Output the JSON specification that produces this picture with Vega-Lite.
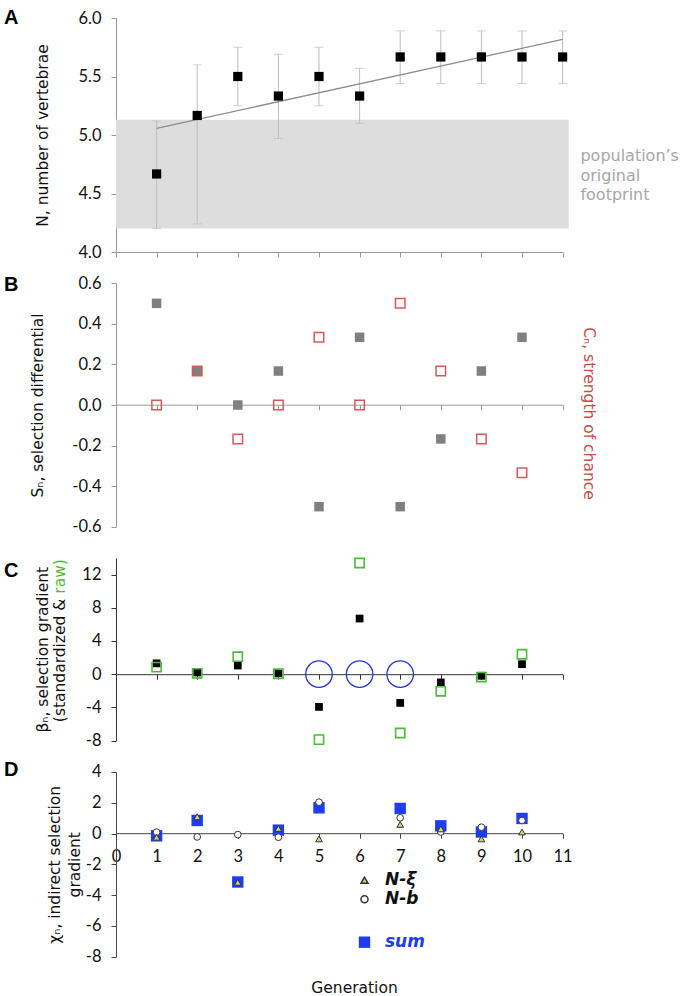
{
  "$schema": "https://vega.github.io/schema/vega-lite/v6.json",
  "padding": {"left": 4, "top": 8, "right": 0, "bottom": 0},
  "bounds": "flush",
  "spacing": 31,
  "config": {
    "view": {"stroke": null},
    "axis": {
      "grid": false,
      "labelFont": "Lato",
      "labelFontSize": 16.5,
      "labelColor": "#111",
      "labelOverlap": false,
      "titleFont": "DejaVu Sans",
      "titleFontSize": 15.5,
      "titleFontWeight": "normal",
      "titleColor": "#111",
      "domainColor": "#999",
      "tickColor": "#999",
      "tickSize": 5,
      "labelPadding": 10
    },
    "title": {"font": "Liberation Sans", "fontSize": 20, "fontWeight": "bold", "color": "#000", "anchor": "start", "frame": "group", "offset": 0}
  },
  "datasets": {
    "foot": [{"x0": 0, "x1": 11.15, "y0": 4.2, "y1": 5.13}],
    "A": [
      {"gen": 1, "n": 4.667, "lo": 4.20, "hi": 5.12},
      {"gen": 2, "n": 5.167, "lo": 4.24, "hi": 5.60},
      {"gen": 3, "n": 5.5, "lo": 5.25, "hi": 5.75},
      {"gen": 4, "n": 5.333, "lo": 4.97, "hi": 5.69},
      {"gen": 5, "n": 5.5, "lo": 5.25, "hi": 5.75},
      {"gen": 6, "n": 5.333, "lo": 5.10, "hi": 5.57},
      {"gen": 7, "n": 5.667, "lo": 5.44, "hi": 5.89},
      {"gen": 8, "n": 5.667, "lo": 5.44, "hi": 5.89},
      {"gen": 9, "n": 5.667, "lo": 5.44, "hi": 5.89},
      {"gen": 10, "n": 5.667, "lo": 5.44, "hi": 5.89},
      {"gen": 11, "n": 5.667, "lo": 5.44, "hi": 5.89}
    ],
    "trend": [{"gen": 1, "n": 5.057}, {"gen": 11, "n": 5.817}],
    "B": [
      {"gen": 1, "s": 0.5, "c": 0},
      {"gen": 2, "s": 0.167, "c": 0.167},
      {"gen": 3, "s": 0, "c": -0.167},
      {"gen": 4, "s": 0.167, "c": 0},
      {"gen": 5, "s": -0.5, "c": 0.333},
      {"gen": 6, "s": 0.333, "c": 0},
      {"gen": 7, "s": -0.5, "c": 0.5},
      {"gen": 8, "s": -0.167, "c": 0.167},
      {"gen": 9, "s": 0.167, "c": -0.167},
      {"gen": 10, "s": 0.333, "c": -0.333}
    ],
    "C": [
      {"gen": 1, "std": 1.3, "raw": 0.84},
      {"gen": 2, "std": 0.2, "raw": 0.1},
      {"gen": 3, "std": 1.04, "raw": 2.1},
      {"gen": 4, "std": 0.1, "raw": 0.05},
      {"gen": 5, "std": -3.95, "raw": -7.9},
      {"gen": 6, "std": 6.7, "raw": 13.4},
      {"gen": 7, "std": -3.47, "raw": -7.1},
      {"gen": 8, "std": -1.0, "raw": -2.07},
      {"gen": 9, "std": -0.2, "raw": -0.35},
      {"gen": 10, "std": 1.2, "raw": 2.4}
    ],
    "Cring": [{"gen": 5, "v": 0}, {"gen": 6, "v": 0}, {"gen": 7, "v": 0}],
    "Dsum": [
      {"gen": 1, "v": -0.15}, {"gen": 2, "v": 0.85}, {"gen": 3, "v": -3.15},
      {"gen": 4, "v": 0.22}, {"gen": 5, "v": 1.67}, {"gen": 7, "v": 1.63},
      {"gen": 8, "v": 0.5}, {"gen": 9, "v": 0.1}, {"gen": 10, "v": 0.98}
    ],
    "Dpts": [
      {"gen": 1, "series": "N-b", "v": 0.09}, {"gen": 2, "series": "N-b", "v": -0.22},
      {"gen": 3, "series": "N-b", "v": -0.07}, {"gen": 4, "series": "N-b", "v": -0.24},
      {"gen": 5, "series": "N-b", "v": 2.04}, {"gen": 7, "series": "N-b", "v": 1.02},
      {"gen": 8, "series": "N-b", "v": 0.1}, {"gen": 9, "series": "N-b", "v": 0.41},
      {"gen": 10, "series": "N-b", "v": 0.85},
      {"gen": 1, "series": "N-ξ", "v": -0.24}, {"gen": 2, "series": "N-ξ", "v": 1.09},
      {"gen": 3, "series": "N-ξ", "v": -3.17}, {"gen": 4, "series": "N-ξ", "v": 0.33},
      {"gen": 5, "series": "N-ξ", "v": -0.35}, {"gen": 7, "series": "N-ξ", "v": 0.59},
      {"gen": 8, "series": "N-ξ", "v": 0.3}, {"gen": 9, "series": "N-ξ", "v": -0.35},
      {"gen": 10, "series": "N-ξ", "v": 0.1}
    ]
  },
  "vconcat": [
    {
      "width": 446.6,
      "height": 234,
      "title": {"text": "A", "dx": -112, "dy": 22},
      "layer": [
        {
          "data": {"name": "foot"},
          "mark": {"type": "rect", "color": "#dddddd"},
          "encoding": {
            "x": {"field": "x0", "type": "quantitative", "scale": {"domain": [0, 11], "nice": false, "zero": false},
                  "axis": {"values": [0,1,2,3,4,5,6,7,8,9,10,11], "labels": false, "title": null, "domainColor": "#999", "tickColor": "#999"}},
            "x2": {"field": "x1"},
            "y": {"field": "y0", "type": "quantitative", "title": "N, number of vertebrae", "scale": {"domain": [4, 6], "nice": false, "zero": false},
                  "axis": {"values": [4, 4.5, 5, 5.5, 6], "format": ".1f", "labelOverlap": false, "titleX": -73, "titleBaseline": "middle"}},
            "y2": {"field": "y1"}
          }
        },
        {
          "data": {"name": "A"},
          "mark": {"type": "errorbar", "color": "#bdbdbd", "ticks": {"size": 9, "color": "#bdbdbd"}},
          "encoding": {
            "x": {"field": "gen", "type": "quantitative", "title": null},
            "y": {"field": "lo", "type": "quantitative", "title": "N, number of vertebrae"},
            "y2": {"field": "hi"}
          }
        },
        {
          "data": {"name": "trend"},
          "mark": {"type": "line", "color": "#8c8c8c", "strokeWidth": 1.3},
          "encoding": {
            "x": {"field": "gen", "type": "quantitative", "title": null},
            "y": {"field": "n", "type": "quantitative", "title": "N, number of vertebrae"}
          }
        },
        {
          "data": {"name": "A"},
          "mark": {"type": "square", "filled": true, "color": "#000", "size": 85, "opacity": 1},
          "encoding": {
            "x": {"field": "gen", "type": "quantitative", "title": null},
            "y": {"field": "n", "type": "quantitative", "title": "N, number of vertebrae"}
          }
        },
        {
          "data": {"values": [{"note": "footprint"}]},
          "mark": {"type": "text", "text": ["population’s", "original", "footprint"], "align": "left", "baseline": "middle", "font": "DejaVu Sans", "fontSize": 16, "lineHeight": 19.5, "color": "#a6a6a6"},
          "encoding": {
            "x": {"datum": 11.44, "type": "quantitative"},
            "y": {"datum": 4.82, "type": "quantitative"}
          }
        }
      ]
    },
    {
      "width": 446.6,
      "height": 244,
      "title": {"text": "B", "dx": -112, "dy": 24},
      "resolve": {"axis": {"y": "independent"}},
      "layer": [
        {
          "data": {"name": "B"},
          "mark": {"type": "square", "filled": true, "color": "#808080", "size": 90, "opacity": 1},
          "encoding": {
            "x": {"field": "gen", "type": "quantitative", "scale": {"domain": [0, 11], "nice": false, "zero": false},
                  "axis": {"values": [0,1,2,3,4,5,6,7,8,9,10,11], "labels": false, "title": null, "offset": -122.3}},
            "y": {"field": "s", "type": "quantitative", "scale": {"domain": [-0.6, 0.6], "nice": false, "zero": false},
                  "axis": {"values": [-0.6, -0.4, -0.2, 0, 0.2, 0.4, 0.6], "format": ".1f", "labelOverlap": false, "labelExpr": "replace(datum.label, '−', '-')", "title": "Sₙ, selection differential", "titleX": -78, "titleBaseline": "middle"}}
          }
        },
        {
          "data": {"name": "B"},
          "mark": {"type": "square", "filled": false, "color": "#d45a5a", "strokeWidth": 1.5, "size": 90, "opacity": 1},
          "encoding": {
            "x": {"field": "gen", "type": "quantitative"},
            "y": {"field": "c", "type": "quantitative",
                  "axis": {"orient": "right", "domain": false, "ticks": false, "labels": false, "title": "Cₙ, strength of chance", "titleColor": "#c94c4c", "titleAngle": 90, "titlePadding": 18, "titleY": 130}}
          }
        }
      ]
    },
    {
      "width": 446.6,
      "height": 182.5,
      "title": {"text": "C", "dx": -112, "dy": 30},
      "resolve": {"axis": {"y": "independent", "x": "independent"}},
      "layer": [
        {
          "data": {"name": "C"},
          "mark": {"type": "square", "filled": true, "color": "#000", "size": 60, "opacity": 1},
          "encoding": {
            "x": {"field": "gen", "type": "quantitative", "scale": {"domain": [0, 11], "nice": false, "zero": false},
                  "axis": {"values": [0,1,2,3,4,5,6,7,8,9,10,11], "labels": false, "title": null, "offset": -66.3, "domainColor": "#333", "tickColor": "#333"}},
            "y": {"field": "std", "type": "quantitative", "scale": {"domain": [-8, 14], "nice": false, "zero": false},
                  "axis": {"values": [-8, -4, 0, 4, 8, 12], "labelOverlap": false, "labelExpr": "replace(datum.label, '−', '-')", "title": "βₙ, selection gradient", "titleX": -73.4, "titleBaseline": "middle", "domainColor": "#333", "tickColor": "#333"}}
          }
        },
        {
          "data": {"name": "C"},
          "mark": {"type": "square", "filled": false, "color": "#4dbb3a", "strokeWidth": 1.6, "size": 85, "opacity": 1},
          "encoding": {
            "x": {"field": "gen", "type": "quantitative", "axis": null},
            "y": {"field": "raw", "type": "quantitative", "axis": null}
          }
        },
        {
          "data": {"name": "Cring"},
          "mark": {"type": "point", "shape": "circle", "filled": false, "color": "#2233dd", "strokeWidth": 1.3, "size": 700, "opacity": 1},
          "encoding": {
            "x": {"field": "gen", "type": "quantitative", "axis": null},
            "y": {"field": "v", "type": "quantitative", "axis": null}
          }
        },
        {
          "data": {"values": [{"note": "title"}]},
          "mark": {"type": "text", "text": "(standardized &", "angle": 270, "align": "right", "baseline": "middle", "font": "DejaVu Sans", "fontSize": 15.5, "color": "#111"},
          "encoding": {
            "x": {"datum": -1.377, "type": "quantitative", "axis": null},
            "y": {"datum": 9.1, "type": "quantitative", "axis": null}
          }
        },
        {
          "data": {"values": [{"note": "title"}]},
          "mark": {"type": "text", "text": "raw)", "angle": 270, "align": "left", "baseline": "middle", "font": "DejaVu Sans", "fontSize": 15.5, "color": "#4dbb3a"},
          "encoding": {
            "x": {"datum": -1.377, "type": "quantitative", "axis": null},
            "y": {"datum": 9.7, "type": "quantitative", "axis": null}
          }
        }
      ]
    },
    {
      "width": 446.6,
      "height": 184.6,
      "title": {"text": "D", "dx": -112, "dy": 20},
      "resolve": {"axis": {"y": "independent", "x": "independent"}},
      "layer": [
        {
          "data": {"name": "Dsum"},
          "mark": {"type": "square", "filled": true, "size": 130, "opacity": 1},
          "encoding": {
            "x": {"field": "gen", "type": "quantitative", "scale": {"domain": [0, 11], "nice": false, "zero": false},
                  "axis": {"values": [0,1,2,3,4,5,6,7,8,9,10,11], "offset": -123.4, "labelBaseline": "middle", "labelPadding": 18, "labelFlush": false, "labelBound": false, "labelOverlap": false, "domainColor": "#444", "tickColor": "#444", "title": "Generation", "titleX": 238, "titleY": 154, "titleBaseline": "middle"}},
            "y": {"field": "v", "type": "quantitative", "scale": {"domain": [-8, 4], "nice": false, "zero": false},
                  "axis": {"values": [-8, -6, -4, -2, 0, 2, 4], "labelOverlap": false, "labelExpr": "replace(datum.label, '−', '-')", "title": ["χₙ, indirect selection", "gradient"], "titleLineHeight": 19.7, "titleX": -61.3, "titleBaseline": "middle", "domainColor": "#444", "tickColor": "#444"}},
            "color": {"datum": "sum", "type": "nominal", "scale": {"domain": ["sum"], "range": ["#1f3cf0"]},
                      "legend": {"orient": "none", "legendX": 240, "legendY": 915.7, "title": null, "symbolType": "square", "symbolSize": 130, "symbolOpacity": 1, "labelColor": "#1f3cf0", "labelFont": "DejaVu Sans", "labelFontSize": 17, "labelFontStyle": "italic", "labelFontWeight": "bold", "labelOffset": 12}}
          }
        },
        {
          "data": {"name": "Dpts"},
          "mark": {"type": "point", "filled": true, "strokeWidth": 1, "size": 45, "opacity": 1},
          "encoding": {
            "x": {"field": "gen", "type": "quantitative", "axis": null},
            "y": {"field": "v", "type": "quantitative", "axis": null},
            "stroke": {"value": "#333"},
            "shape": {"field": "series", "type": "nominal", "scale": {"domain": ["N-ξ", "N-b"], "range": ["triangle-up", "circle"]},
                      "legend": {"orient": "none", "legendX": 240, "legendY": 853.7, "title": null, "symbolSize": 50, "labelFont": "DejaVu Sans", "labelFontSize": 17, "labelFontStyle": "italic", "labelFontWeight": "bold", "labelColor": "#111", "labelOffset": 12, "rowPadding": 1,
                                 "encode": {"symbols": {
                                   "fill": {"condition": {"test": "datum.value === 'N-ξ'", "value": "#c6d77c"}, "value": "#ffffff"},
                                   "stroke": {"value": "#333"},
                                   "strokeWidth": {"value": 1},
                                   "opacity": {"value": 1}
                                 }}}},
            "fill": {"field": "series", "type": "nominal", "scale": {"domain": ["N-ξ", "N-b"], "range": ["#c6d77c", "#ffffff"]}, "legend": null}
          }
        }
      ]
    }
  ]
}
